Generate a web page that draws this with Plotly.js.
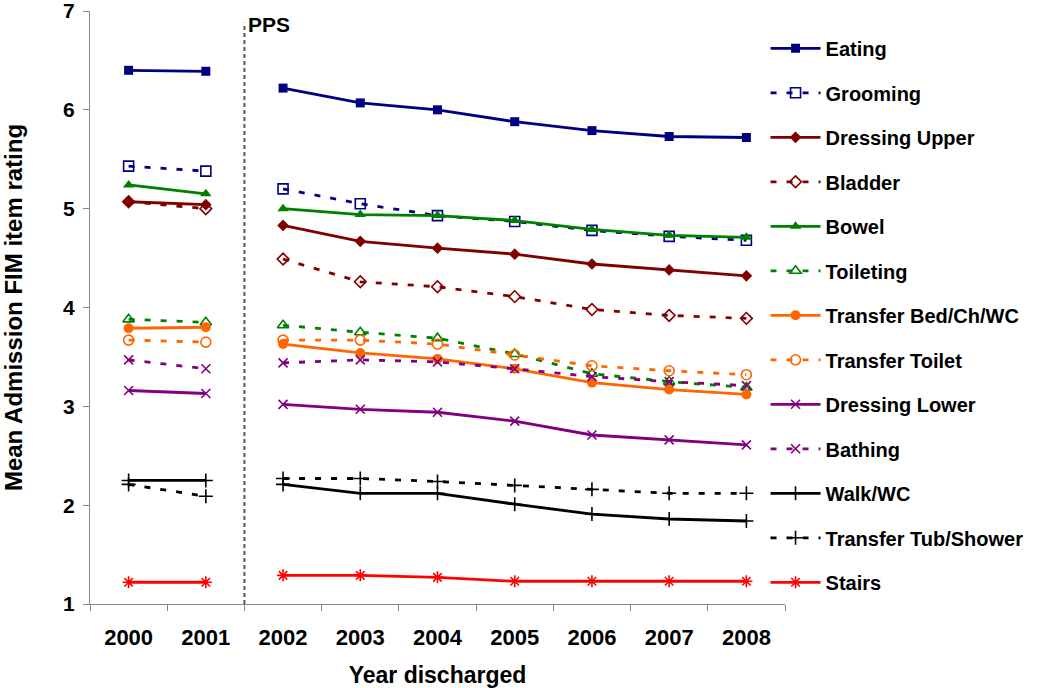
<!DOCTYPE html>
<html>
<head>
<meta charset="utf-8">
<script src="https://cdn.plot.ly/plotly-3.0.1.min.js"></script>
<style>html,body{margin:0;padding:0;background:#fff;}#chart{width:1050px;height:688px;}</style>
</head>
<body>
<div id="chart"></div>
<script>
// Categories (years discharged); PPS introduced between 2001 and 2002
const years = ['2000','2001','2002','2003','2004','2005','2006','2007','2008'];
const ppsBreakIndex = 2; // first year after PPS
const yTicks = [1, 2, 3, 4, 5, 6, 7];

// Series values (mean admission FIM item rating)
const eating          = [6.40, 6.39, 6.22, 6.07, 6.00, 5.88, 5.79, 5.73, 5.72];
const grooming        = [5.43, 5.38, 5.20, 5.05, 4.93, 4.87, 4.78, 4.72, 4.68];
const dressingUpper   = [5.07, 5.04, 4.83, 4.67, 4.60, 4.54, 4.44, 4.38, 4.32];
const bladder         = [5.07, 5.00, 4.49, 4.26, 4.21, 4.11, 3.98, 3.92, 3.89];
const bowel           = [5.24, 5.15, 5.00, 4.94, 4.93, 4.88, 4.79, 4.73, 4.71];
const toileting       = [3.88, 3.85, 3.82, 3.75, 3.69, 3.53, 3.33, 3.25, 3.19];
const transferBed     = [3.79, 3.80, 3.63, 3.54, 3.48, 3.38, 3.24, 3.17, 3.12];
const transferToilet  = [3.67, 3.65, 3.67, 3.67, 3.63, 3.52, 3.41, 3.36, 3.32];
const dressingLower   = [3.16, 3.13, 3.02, 2.97, 2.94, 2.85, 2.71, 2.66, 2.61];
const bathing         = [3.47, 3.38, 3.44, 3.47, 3.45, 3.38, 3.30, 3.25, 3.21];
const walkWC          = [2.25, 2.25, 2.21, 2.12, 2.12, 2.01, 1.91, 1.86, 1.84];
const transferTub     = [2.21, 2.09, 2.27, 2.27, 2.24, 2.20, 2.16, 2.12, 2.12];
const stairs          = [1.22, 1.22, 1.29, 1.29, 1.27, 1.23, 1.23, 1.23, 1.23];

const seriesNames = ['Eating','Grooming','Dressing Upper','Bladder','Bowel','Toileting',
  'Transfer Bed/Ch/WC','Transfer Toilet','Dressing Lower','Bathing','Walk/WC','Transfer Tub/Shower','Stairs'];
const seriesValues = [eating, grooming, dressingUpper, bladder, bowel, toileting,
  transferBed, transferToilet, dressingLower, bathing, walkWC, transferTub, stairs];

// Styles
const styles = [
  {color:'#000080', dash:'solid', symbol:'square', size:9},
  {color:'#000080', dash:'6px,10px', symbol:'square-open', size:10},
  {color:'#800000', dash:'solid', symbol:'diamond', size:9},
  {color:'#800000', dash:'6px,10px', symbol:'diamond-open', size:9},
  {color:'#008000', dash:'solid', symbol:'triangle-up', size:10},
  {color:'#008000', dash:'6px,10px', symbol:'triangle-up-open', size:10},
  {color:'#FF6600', dash:'solid', symbol:'circle', size:10},
  {color:'#FF6600', dash:'6px,10px', symbol:'circle-open', size:10},
  {color:'#800080', dash:'solid', symbol:'x-thin-open', size:9},
  {color:'#800080', dash:'6px,10px', symbol:'x-thin-open', size:9},
  {color:'#000000', dash:'solid', symbol:'cross-thin-open', size:10},
  {color:'#000000', dash:'6px,10px', symbol:'cross-thin-open', size:10},
  {color:'#FF0000', dash:'solid', symbol:'asterisk-open', size:10}
];

const traces = [];
seriesNames.forEach((name, i) => {
  const st = styles[i];
  const vals = seriesValues[i];
  const segs = [
    {x: years.slice(0, ppsBreakIndex), y: vals.slice(0, ppsBreakIndex), show: false},
    {x: years.slice(ppsBreakIndex), y: vals.slice(ppsBreakIndex), show: true}
  ];
  segs.forEach(seg => {
    traces.push({
      type: 'scatter', mode: 'lines+markers', name: name,
      legendgroup: name, showlegend: seg.show,
      x: seg.x, y: seg.y,
      line: {color: st.color, width: 2.8, dash: st.dash},
      marker: {symbol: st.symbol, size: st.size, color: st.color,
               line: {color: st.color, width: st.symbol.indexOf('open') >= 0 ? 1.6 : 0}}
    });
  });
});

const boldFont = {family: 'Liberation Sans, Arial, sans-serif', color: '#000', weight: 700};

const layout = {
  width: 1050, height: 688,
  margin: {l: 90, r: 265, t: 11, b: 84},
  paper_bgcolor: '#fff', plot_bgcolor: '#fff',
  showlegend: true,
  legend: {
    x: 0.972, xanchor: 'left', y: 0.97, yanchor: 'top',
    font: Object.assign({}, boldFont, {size: 20}),
    itemwidth: 50, tracegroupgap: 15.5, traceorder: 'grouped',
    bgcolor: 'rgba(0,0,0,0)'
  },
  xaxis: {
    type: 'category', categoryorder: 'array', categoryarray: years,
    range: [-0.5, 8.5], tickson: 'boundaries',
    showline: true, linecolor: '#888', linewidth: 1,
    ticks: 'outside', ticklen: 6, tickcolor: '#888',
    showgrid: false, zeroline: false,
    ticklabelstandoff: 14,
    tickfont: Object.assign({}, boldFont, {size: 22}),
    title: {text: 'Year discharged', font: Object.assign({}, boldFont, {size: 23}), standoff: 26}
  },
  yaxis: {
    range: [1, 7], tickmode: 'array', tickvals: yTicks, ticktext: yTicks.map(String),
    showline: true, linecolor: '#888', linewidth: 1,
    ticks: 'outside', ticklen: 6, tickcolor: '#888',
    showgrid: false, zeroline: false,
    ticklabelstandoff: 4, ticklabeloverflow: 'allow',
    tickfont: Object.assign({}, boldFont, {size: 21}),
    title: {text: 'Mean Admission FIM item rating', font: Object.assign({}, boldFont, {size: 24}), standoff: 36}
  },
  shapes: [{
    type: 'line', xref: 'x', yref: 'paper', x0: 1.5, x1: 1.5, y0: 0, y1: 0.98,
    line: {color: '#555', width: 2, dash: '4px,3px'}
  }],
  annotations: [{
    text: 'PPS', xref: 'x', yref: 'paper', x: 1.5, y: 1.0, xanchor: 'left', yanchor: 'top',
    xshift: 2, showarrow: false, font: Object.assign({}, boldFont, {size: 21})
  }]
};

Plotly.newPlot('chart', traces, layout, {displayModeBar: false, staticPlot: true});
</script>
</body>
</html>
